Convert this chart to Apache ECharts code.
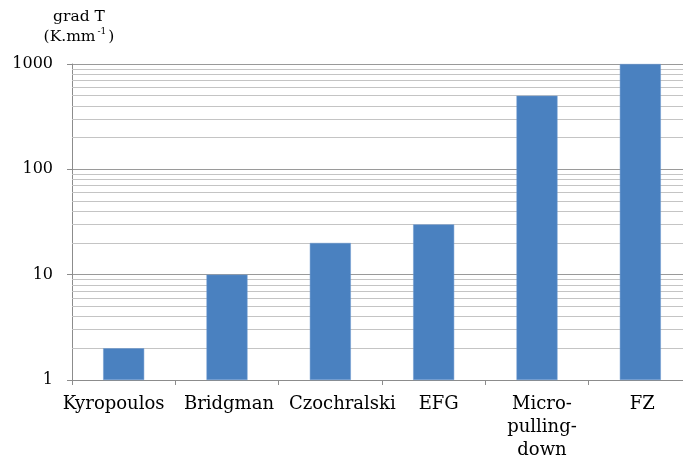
<!DOCTYPE html>
<html>
<head>
<meta charset="utf-8">
<script src="https://cdn.jsdelivr.net/npm/echarts@6/dist/echarts.min.js"></script>
<style>html,body{margin:0;padding:0;background:#fff}#c{width:683px;height:459px}</style>
</head>
<body>
<div id="c"></div>
<script>
var categories = ['Kyropoulos', 'Bridgman', 'Czochralski', 'EFG', 'Micro-\npulling-\ndown', 'FZ'];
var gradValues = [2, 10, 20, 30, 500, 1000];
var yTicks = [1, 10, 100, 1000];

// small horizontal nudges of the category labels (layout only)
var labelNudge = [-10, 2, 12, 5, 5, 2];

var minorLines = [];
[1, 10, 100].forEach(function (d) {
  for (var k = 2; k <= 9; k++) minorLines.push({ yAxis: k * d });
});

var serif = '"DejaVu Serif", "Liberation Serif", serif';
var labelRich = {};
labelNudge.forEach(function (n, i) {
  labelRich['c' + i] = {
    fontFamily: serif, fontSize: 18, color: '#000', lineHeight: 23,
    padding: n >= 0 ? [0, 0, 0, 2 * n] : [0, -2 * n, 0, 0]
  };
});

var chart = echarts.init(document.getElementById('c'), null, { renderer: 'canvas' });
chart.setOption({
  animation: false,
  title: {
    left: 74, top: 2, textAlign: 'center',
    text: '{a|grad T}\n{a|(K.mm}{s|-1}{a|)}',
    textStyle: {
      fontWeight: 'normal',
      rich: {
        a: { fontFamily: serif, fontSize: 15.5, fontWeight: 'normal', color: '#000', lineHeight: 20 },
        s: { fontFamily: serif, fontSize: 9, fontWeight: 'normal', color: '#000', verticalAlign: 'top', lineHeight: 20, padding: [0, 2, 8, 2] }
      }
    }
  },
  grid: { left: 72, width: 620, top: 64, bottom: 79, containLabel: false, outerBoundsMode: 'none' },
  xAxis: {
    type: 'category',
    data: categories,
    boundaryGap: true,
    axisLine: { lineStyle: { color: '#8c8c8c', width: 1 } },
    axisTick: { show: true, length: 5, lineStyle: { color: '#8c8c8c' } },
    axisLabel: {
      fontFamily: serif, fontSize: 18, color: '#000', margin: 13, lineHeight: 23, interval: 0,
      formatter: function (v, i) {
        return v.split('\n').map(function (line) { return '{c' + i + '|' + line + '}'; }).join('\n');
      },
      rich: labelRich
    }
  },
  yAxis: {
    type: 'log',
    logBase: 10,
    min: 1,
    max: 1000,
    axisLine: { show: true, lineStyle: { color: '#8c8c8c', width: 1 } },
    axisTick: { show: true, length: 5, lineStyle: { color: '#8c8c8c' } },
    axisLabel: {
      fontFamily: serif, fontSize: 16, color: '#000', margin: 19,
      formatter: function (v) { return yTicks.indexOf(Math.round(v)) >= 0 ? String(Math.round(v)) : ''; }
    },
    splitLine: { show: true, lineStyle: { color: '#9a9a9a', width: 1 } }
  },
  series: [{
    type: 'bar',
    data: gradValues,
    barWidth: 41,
    itemStyle: { color: '#4a81c0', borderColor: '#6f9ad0', borderWidth: 0.5 },
    z: 3,
    markLine: {
      z: 1,
      silent: true,
      symbol: ['none', 'none'],
      label: { show: false },
      lineStyle: { color: '#c4c4c4', type: 'solid', width: 1 },
      emphasis: { disabled: true },
      data: minorLines
    }
  }]
});
</script>
</body>
</html>
